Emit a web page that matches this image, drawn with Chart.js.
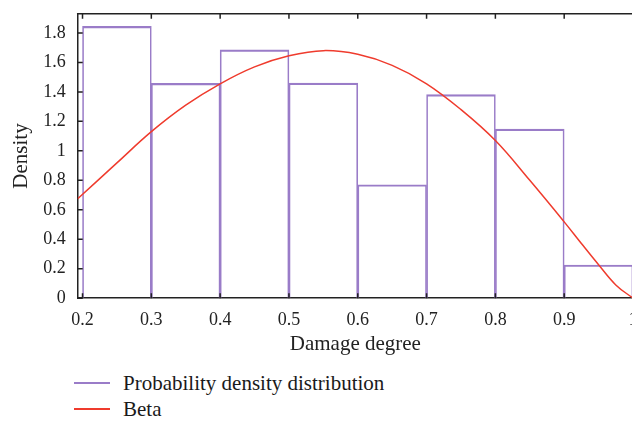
<!DOCTYPE html>
<html>
<head>
<meta charset="utf-8">
<script src="https://cdn.jsdelivr.net/npm/chart.js@4/dist/chart.umd.min.js"></script>
<style>
  html, body { margin: 0; padding: 0; background: #fff; overflow: hidden; }
  #wrap { position: absolute; left: 0; top: -9px; width: 660px; height: 371px; }
  .legend { position: absolute; left: 74px; font-family: "Liberation Serif", serif; font-size: 21px; color: #1a1a1a; }
  .legend div { position: relative; height: 26px; line-height: 26px; padding-left: 49px; white-space: nowrap; }
  .legend span { position: absolute; left: 0; top: 12px; width: 36px; height: 1.5px; }
</style>
</head>
<body>
<div id="wrap"><canvas id="grafico"></canvas></div>
<div class="legend" id="legenda" style="top:370px"></div>
<script>
// histograma (centro de cada classe e densidade)
const centrosClasse = [0.25, 0.35, 0.45, 0.55, 0.65, 0.75, 0.85, 0.95];
const densidade = [1.845, 1.458, 1.685, 1.46, 0.77, 1.381, 1.147, 0.225];

// curva Beta ajustada
const betaX = [0.193, 0.25, 0.3, 0.35, 0.4, 0.45, 0.5, 0.55, 0.6, 0.65, 0.7, 0.75, 0.8, 0.85, 0.9, 0.925, 0.95, 0.975, 1.0];
const betaY = [0.675, 0.918, 1.13, 1.31, 1.455, 1.57, 1.645, 1.68, 1.655, 1.58, 1.455, 1.28, 1.07, 0.8, 0.518, 0.371, 0.227, 0.09, 0.0];

const ticksX = [0.2, 0.3, 0.4, 0.5, 0.6, 0.7, 0.8, 0.9, 1.0];
const rotulosX = ['0.2', '0.3', '0.4', '0.5', '0.6', '0.7', '0.8', '0.9', '1'];
const ticksY = [0, 0.2, 0.4, 0.6, 0.8, 1.0, 1.2, 1.4, 1.6, 1.8];
const rotulosY = ['0', '0.2', '0.4', '0.6', '0.8', '1', '1.2', '1.4', '1.6', '1.8'];

const corHist = '#9a7cc8';
const corBeta = '#ef3b2d';
const corEixo = '#222';
const fonte = { family: 'Liberation Serif', size: 18 };
const fonteTitulo = { family: 'Liberation Serif', size: 21 };

// ticks para dentro + linha superior do quadro
const ticksInternos = {
    id: 'ticksInternos',
    afterDraw(chart) {
        const { ctx, chartArea: a, scales: { x, y } } = chart;
        ctx.save();
        ctx.strokeStyle = corEixo;
        ctx.lineWidth = 1.5;
        ctx.beginPath();
        ctx.moveTo(a.left - 0.75, a.top);
        ctx.lineTo(a.right + 20, a.top);
        x.ticks.forEach(t => {
            const px = x.getPixelForValue(t.value);
            ctx.moveTo(px, a.top); ctx.lineTo(px, a.top + 5);
            ctx.moveTo(px, a.bottom); ctx.lineTo(px, a.bottom - 5);
        });
        y.ticks.forEach(t => {
            const py = y.getPixelForValue(t.value);
            ctx.moveTo(a.left, py); ctx.lineTo(a.left + 5, py);
        });
        ctx.stroke();
        ctx.restore();
    }
};

const ctx = document.getElementById('grafico').getContext('2d');
new Chart(ctx, {
    type: 'bar',
    data: {
        datasets: [
            {
                type: 'bar',
                label: 'Probability density distribution',
                data: centrosClasse.map((c, i) => ({ x: c, y: densidade[i] })),
                backgroundColor: 'rgba(0,0,0,0)',
                borderColor: corHist,
                borderWidth: { top: 1.5, left: 1, right: 1, bottom: 0 },
                borderSkipped: false,
                categoryPercentage: 1,
                barPercentage: 1,
                order: 2
            },
            {
                type: 'line',
                label: 'Beta',
                data: betaX.map((v, i) => ({ x: v, y: betaY[i] })),
                borderColor: corBeta,
                borderWidth: 1.5,
                pointRadius: 0,
                tension: 0.4,
                fill: false,
                order: 1
            }
        ]
    },
    options: {
        responsive: true,
        maintainAspectRatio: false,
        animation: false,
        layout: { padding: { top: 1, right: 27, bottom: 5, left: 0 } },
        plugins: { legend: { display: false }, tooltip: { enabled: false } },
        scales: {
            x: {
                type: 'linear',
                offset: false,
                min: 0.193,
                max: 1.0,
                afterBuildTicks: s => { s.ticks = ticksX.map(v => ({ value: v })); },
                grid: { display: true, drawOnChartArea: false, drawTicks: false, offset: false },
                border: { display: true, color: corEixo, width: 1.5 },
                ticks: { font: fonte, color: corEixo, padding: 11, maxRotation: 0, autoSkip: false,
                    callback: (v, i) => rotulosX[i] },
                title: { display: true, text: 'Damage degree', font: fonteTitulo, color: corEixo, padding: { top: -10, bottom: 0 } }
            },
            y: {
                min: 0,
                max: 1.93,
                afterBuildTicks: s => { s.ticks = ticksY.map(v => ({ value: v })); },
                grid: { display: true, drawOnChartArea: false, drawTicks: false },
                border: { display: true, color: corEixo, width: 1.5 },
                ticks: { font: fonte, color: corEixo, padding: 12, autoSkip: false,
                    callback: (v, i) => rotulosY[i] },
                title: { display: true, text: 'Density', font: fonteTitulo, color: corEixo, padding: { top: 9, bottom: -3 } }
            }
        }
    },
    plugins: [ticksInternos]
});

// legenda em coluna, abaixo do gráfico
const legenda = document.getElementById('legenda');
[['Probability density distribution', corHist], ['Beta', corBeta]].forEach(([txt, cor]) => {
    legenda.innerHTML += `<div><span style="background:${cor}"></span>${txt}</div>`;
});
</script>
</body>
</html>
